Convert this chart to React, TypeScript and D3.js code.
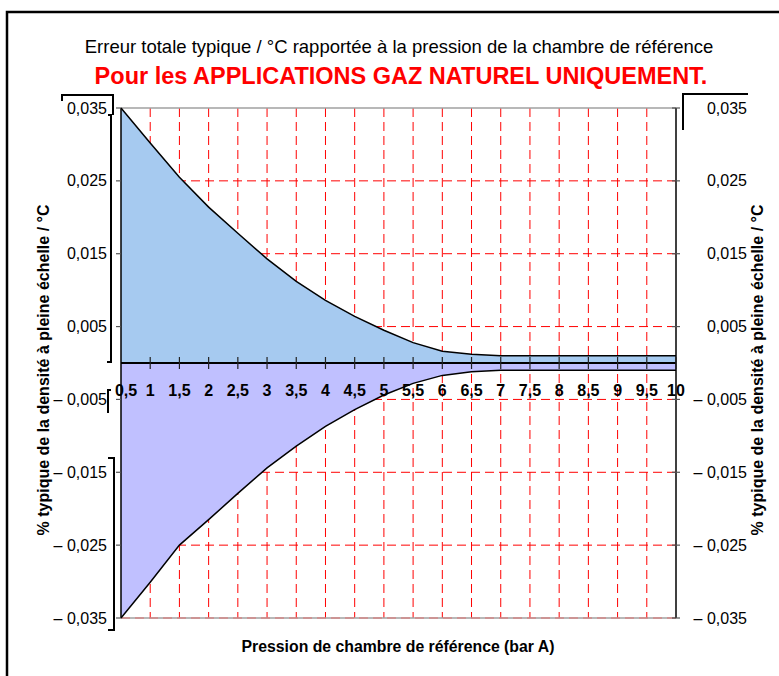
import { useEffect, useRef } from 'react'
import * as d3 from 'd3'

const pressures = [0.5, 1, 1.5, 2, 2.5, 3, 3.5, 4, 4.5, 5, 5.5, 6, 6.5, 7, 7.5, 8, 8.5, 9, 9.5, 10]
const upperErr = [0.035, 0.0302, 0.0255, 0.0214, 0.0178, 0.0143, 0.0112, 0.0086, 0.0064, 0.0045, 0.0028, 0.0016, 0.0012, 0.001, 0.001, 0.001, 0.001, 0.001, 0.001, 0.001]
const lowerErr = [-0.035, -0.0301, -0.025, -0.0215, -0.0179, -0.0144, -0.0114, -0.0087, -0.0064, -0.0044, -0.0028, -0.0017, -0.0012, -0.001, -0.001, -0.001, -0.001, -0.001, -0.001, -0.001]
const yTicks = [0.035, 0.025, 0.015, 0.005, -0.005, -0.015, -0.025, -0.035]
const xTickLabels = ['0,5', '1', '1,5', '2', '2,5', '3', '3,5', '4', '4,5', '5', '5,5', '6', '6,5', '7', '7,5', '8', '8,5', '9', '9,5', '10']

const title = 'Erreur totale typique / °C rapportée à la pression de la chambre de référence'
const subtitle = 'Pour les APPLICATIONS GAZ NATUREL UNIQUEMENT.'
const yTitle = '% typique de la densité à pleine échelle / °C'
const xTitle = 'Pression de chambre de référence (bar A)'

const fmt = (v: number) => {
  const s = Math.abs(v).toFixed(3).replace('.', ',')
  return v < 0 ? '– ' + s : s
}

export default function App() {
  const ref = useRef<SVGSVGElement>(null)

  useEffect(() => {
    const svg = d3.select(ref.current)
    svg.selectAll('*').remove()
    const font = '"Liberation Sans", Arial, sans-serif'

    const left = 121, right = 676, top = 108, bottom = 618
    const x = d3.scaleLinear().domain([0.5, 10]).range([left, right])
    const y = d3.scaleLinear().domain([-0.035, 0.035]).range([bottom, top])

    // frame
    svg.append('rect')
      .attr('x', 7).attr('y', 12).attr('width', 800).attr('height', 700)
      .attr('fill', 'none').attr('stroke', 'black').attr('stroke-width', 2.5)

    svg.append('text').attr('x', 399).attr('y', 53)
      .attr('text-anchor', 'middle').style('font-family', font).style('font-size', '18.5px')
      .text(title)
    svg.append('text').attr('x', 401).attr('y', 84)
      .attr('text-anchor', 'middle').style('font-family', font).style('font-size', '23.5px')
      .style('font-weight', 'bold').attr('fill', '#ff0000')
      .text(subtitle)

    // grid
    const grid = svg.append('g')
    grid.selectAll('line.v').data(pressures.filter(p => p > 0.5 && p < 10)).enter().append('line')
      .attr('x1', d => x(d)).attr('x2', d => x(d)).attr('y1', top).attr('y2', bottom)
      .attr('stroke', '#ff0000').attr('stroke-width', 1).attr('stroke-dasharray', '9,5')
    grid.selectAll('line.h').data(yTicks.filter(t => Math.abs(t) < 0.035)).enter().append('line')
      .attr('x1', left).attr('x2', right).attr('y1', d => y(d)).attr('y2', d => y(d))
      .attr('stroke', '#ff0000').attr('stroke-width', 1).attr('stroke-dasharray', '9,5')
    grid.append('line').attr('x1', left).attr('x2', right).attr('y1', top).attr('y2', top)
      .attr('stroke', '#a0a0a0').attr('stroke-width', 1.5)
    grid.append('line').attr('x1', left).attr('x2', right).attr('y1', bottom).attr('y2', bottom)
      .attr('stroke', '#a0a0a0').attr('stroke-width', 1.5)
    grid.append('line').attr('x1', left).attr('x2', right).attr('y1', bottom).attr('y2', bottom)
      .attr('stroke', '#e07070').attr('stroke-width', 1).attr('stroke-dasharray', '9,5')

    // areas
    const upData = pressures.map((p, i) => [p, upperErr[i]] as [number, number])
    const loData = pressures.map((p, i) => [p, lowerErr[i]] as [number, number])
    const area = d3.area<[number, number]>().x(d => x(d[0])).y0(y(0)).y1(d => y(d[1]))
    const line = d3.line<[number, number]>().x(d => x(d[0])).y(d => y(d[1]))

    svg.append('path').attr('d', area(upData)).attr('fill', '#a6caf0')
    svg.append('path').attr('d', area(loData)).attr('fill', '#c0c0ff')
    svg.append('path').attr('d', line(upData)).attr('fill', 'none').attr('stroke', 'black').attr('stroke-width', 1.5)
    svg.append('path').attr('d', line(loData)).attr('fill', 'none').attr('stroke', 'black').attr('stroke-width', 1.5)

    // axes lines
    svg.append('line').attr('x1', left).attr('x2', left).attr('y1', top).attr('y2', bottom)
      .attr('stroke', 'black').attr('stroke-width', 1.5)
    svg.append('line').attr('x1', right).attr('x2', right).attr('y1', top).attr('y2', bottom)
      .attr('stroke', 'black').attr('stroke-width', 1.5)
    svg.append('line').attr('x1', left).attr('x2', right).attr('y1', y(0)).attr('y2', y(0))
      .attr('stroke', 'black').attr('stroke-width', 2)

    // x ticks on zero line
    svg.selectAll('line.xt').data(pressures.filter(p => p > 0.5)).enter().append('line')
      .attr('x1', d => x(d)).attr('x2', d => x(d)).attr('y1', y(0) - 6).attr('y2', y(0) + 6)
      .attr('stroke', '#222').attr('stroke-width', 1.2)
    svg.selectAll('text.xl').data(pressures).enter().append('text')
      .attr('x', (d, i) => x(d) + (i === 0 ? 5 : 0)).attr('y', y(0) + 33)
      .attr('text-anchor', 'middle').style('font-family', font).style('font-size', '16px')
      .style('font-weight', 'bold')
      .text((d, i) => xTickLabels[i])

    // y ticks
    svg.selectAll('line.yl').data(yTicks).enter().append('line')
      .attr('x1', left - 5).attr('x2', left).attr('y1', d => y(d)).attr('y2', d => y(d))
      .attr('stroke', '#555').attr('stroke-width', 1.2)
    svg.selectAll('line.yr').data(yTicks).enter().append('line')
      .attr('x1', right - 4).attr('x2', right + 4).attr('y1', d => y(d)).attr('y2', d => y(d))
      .attr('stroke', '#555').attr('stroke-width', 1.2)
    svg.selectAll('text.yl').data(yTicks).enter().append('text')
      .attr('x', 107).attr('y', d => y(d) + 5.5).attr('text-anchor', 'end')
      .style('font-family', font).style('font-size', '16px').text(d => fmt(d))
    svg.selectAll('text.yr').data(yTicks).enter().append('text')
      .attr('x', 747).attr('y', d => y(d) + 5.5).attr('text-anchor', 'end')
      .style('font-family', font).style('font-size', '16px').text(d => fmt(d))

    // axis titles
    svg.append('text').attr('transform', 'translate(49,370) rotate(-90)')
      .attr('text-anchor', 'middle').style('font-family', font).style('font-size', '16px')
      .style('font-weight', 'bold').text(yTitle)
    svg.append('text').attr('transform', 'translate(763,370) rotate(-90)')
      .attr('text-anchor', 'middle').style('font-family', font).style('font-size', '16px')
      .style('font-weight', 'bold').text(yTitle)
    svg.append('text').attr('x', 398).attr('y', 652)
      .attr('text-anchor', 'middle').style('font-family', font).style('font-size', '15.8px')
      .style('font-weight', 'bold').text(xTitle)

    // stray bracket marks
    const br = svg.append('g').attr('fill', 'none').attr('stroke', 'black').attr('stroke-width', 2)
    br.append('path').attr('d', 'M62,101 V95 H113 V115')
    br.append('path').attr('d', 'M108,115 H111 V362 H107')
    br.append('path').attr('d', 'M111,390 H108 V413')
    br.append('path').attr('d', 'M108,458 H114 V630 H108')
    br.append('path').attr('d', 'M683,130 V94 H748')
  }, [])

  return (
    <svg ref={ref} width={779} height={676}
      style={{ position: 'absolute', left: 0, top: 0, background: 'white' }} />
  )
}
